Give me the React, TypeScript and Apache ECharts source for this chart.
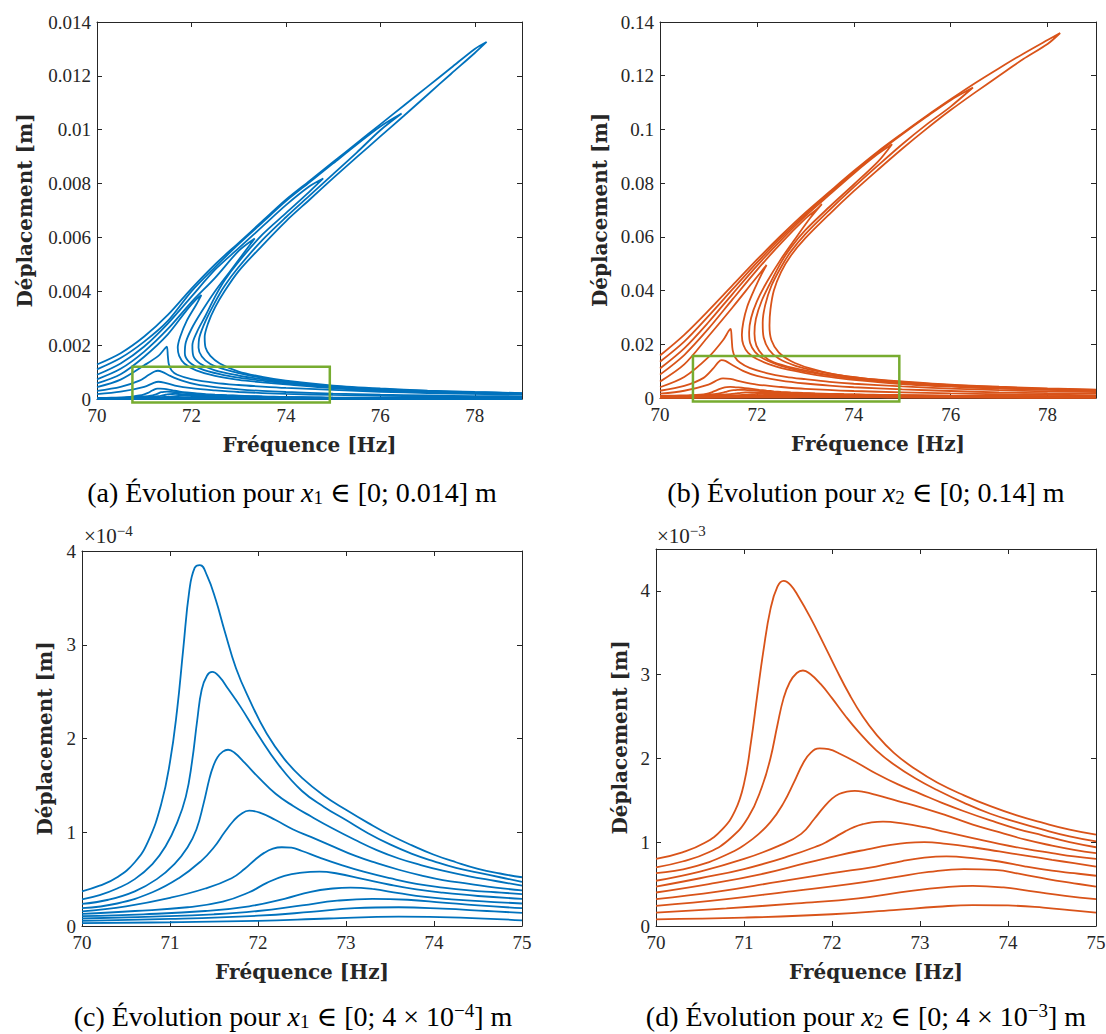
import React, { useEffect, useRef } from "react";
import * as echarts from "echarts";

const BLUE = "#0072BD";
const ORANGE = "#D95319";
const GREEN = "#77AC30";
const AXIS = "#262626";
const FONT_NUM = "Liberation Serif, DejaVu Serif, serif";
const FONT_BOLD = "DejaVu Serif, Liberation Serif, serif";

type Pt = [number, number];

// ---------- Panel (a): x1 [m], fold curves (upper branch -> tip -> return -> lower branch)
const aF6: Pt[] = [[70,0.00128],[70.5,0.0017],[71,0.00232],[71.5,0.00312],[72,0.0041],[72.5,0.005],[73,0.0058],[73.5,0.0066],[74,0.0074],[74.5,0.0081],[75,0.0088],[75.5,0.0095],[76,0.0102],[76.5,0.0109],[77,0.0116],[77.5,0.0123],[78,0.013],[78.25,0.01326],
  [78,0.01285],[77.5,0.01208],[77,0.0113],[76.5,0.01052],[76,0.00975],[75.5,0.00898],[75,0.0082],[74.5,0.0074],[74,0.0066],[73.5,0.0057],[73,0.00475],[72.7,0.004],[72.5,0.0034],[72.35,0.0028],[72.28,0.0023],[72.3,0.0019],[72.4,0.0016],[72.6,0.00132],[73,0.00102],[73.5,0.00082],[74,0.00068],[75,0.0005],[76,0.00039],[77,0.00031],[78,0.00026],[79,0.00022]];
const aF5: Pt[] = [[70,0.0011],[70.5,0.00152],[71,0.00213],[71.5,0.0029],[72,0.004],[72.5,0.0049],[73,0.00575],[73.5,0.00655],[74,0.00735],[74.5,0.00805],[75,0.00875],[75.5,0.00945],[76,0.01012],[76.45,0.0106],
  [76,0.00998],[75.5,0.00915],[75,0.00835],[74.5,0.00755],[74,0.00675],[73.5,0.0059],[73,0.0049],[72.7,0.0042],[72.5,0.0036],[72.3,0.0029],[72.17,0.0023],[72.15,0.0019],[72.22,0.00158],[72.4,0.0013],[72.7,0.0011],[73,0.00096],[73.5,0.00078],[74,0.00065],[75,0.00047],[76,0.00037],[77,0.0003],[78,0.00025],[79,0.00021]];
const aF4: Pt[] = [[70,0.0009],[70.5,0.00132],[71,0.00195],[71.5,0.0028],[72,0.0038],[72.5,0.0048],[73,0.0056],[73.5,0.0064],[74,0.0072],[74.5,0.0079],[74.79,0.00819],
  [74.5,0.0077],[74,0.0069],[73.5,0.0061],[73,0.0051],[72.7,0.0044],[72.5,0.0038],[72.3,0.0031],[72.12,0.0025],[72.02,0.002],[72.04,0.0016],[72.18,0.00132],[72.5,0.00106],[73,0.00087],[73.5,0.00073],[74,0.00062],[75,0.00045],[76,0.00035],[77,0.00028],[78,0.00023],[79,0.0002]];
const aF3: Pt[] = [[70,0.00073],[70.5,0.00112],[71,0.00176],[71.5,0.0026],[72,0.0036],[72.5,0.0045],[73,0.0055],[73.34,0.00596],
  [73.1,0.0054],[72.8,0.0047],[72.5,0.004],[72.2,0.0032],[72,0.0026],[71.88,0.0021],[71.86,0.0017],[71.95,0.00138],[72.2,0.00112],[72.6,0.00092],[73,0.00079],[73.5,0.00068],[74,0.00058],[75,0.00043],[76,0.00033],[77,0.00027],[78,0.00022],[79,0.00019]];
const aF2: Pt[] = [[70,0.00058],[70.5,0.00092],[71,0.00157],[71.5,0.0024],[71.9,0.0033],[72.1,0.0037],[72.21,0.00386],
  [72.1,0.0035],[71.9,0.0029],[71.76,0.0023],[71.71,0.0019],[71.74,0.0016],[71.85,0.00132],[72.1,0.00106],[72.5,0.00086],[73,0.00071],[73.5,0.00062],[74,0.00054],[75,0.0004],[76,0.00031],[77,0.00025],[78,0.00021],[79,0.00018]];
const aF1: Pt[] = [[70,0.00044],[70.5,0.00072],[71,0.00125],[71.3,0.0016],[71.44,0.00188],[71.48,0.00194],
  [71.5,0.0016],[71.52,0.0013],[71.58,0.00106],[71.7,0.0009],[72,0.00074],[72.5,0.0006],[73,0.00052],[73.5,0.00046],[74,0.00041],[75,0.00034],[76,0.00027],[77,0.00022],[78,0.00019],[79,0.00016]];
const aP1: Pt[] = [[70,0.0003],[70.5,0.00045],[70.9,0.00068],[71.1,0.0009],[71.22,0.00102],[71.29,0.00105],[71.38,0.00101],[71.55,0.00086],[71.8,0.00068],[72.1,0.00054],[72.5,0.00044],[73,0.00036],[73.5,0.0003],[74,0.00026],[75,0.0002],[76,0.00016],[77,0.00013],[78,0.00011],[79,0.0001]];
const aP2: Pt[] = [[70,0.00018],[70.5,0.00027],[71,0.00045],[71.2,0.0006],[71.3,0.00064],[71.42,0.00061],[71.65,0.0005],[72,0.0004],[72.5,0.00032],[73,0.00026],[74,0.00019],[75,0.00015],[76,0.00012],[77,0.0001],[78,0.00008],[79,0.00007]];
const aZoomBox: Pt[] = [[70.75,0.0012],[74.93,0.0012],[74.93,-0.00013],[70.75,-0.00013],[70.75,0.0012]];

// ---------- Panel (b): x2 [m]
const bF6: Pt[] = [[70,0.0158],[70.5,0.0235],[71,0.0325],[71.5,0.042],[72,0.0515],[72.5,0.0605],[73,0.069],[73.5,0.0768],[74,0.0845],[74.5,0.0918],[75,0.0985],[75.5,0.105],[76,0.1112],[76.5,0.1172],[77,0.1228],[77.5,0.1282],[78,0.1333],[78.26,0.1359],
  [78,0.1318],[77.5,0.1262],[77,0.12],[76.5,0.1137],[76,0.1072],[75.5,0.1002],[75,0.0928],[74.5,0.085],[74,0.077],[73.5,0.0685],[73,0.0595],[72.7,0.053],[72.5,0.047],[72.35,0.04],[72.28,0.033],[72.26,0.027],[72.3,0.0215],[72.45,0.017],[72.7,0.0138],[73.1,0.011],[73.6,0.0088],[74.2,0.0073],[75,0.0062],[76,0.005],[77,0.0042],[78,0.0036],[79,0.0031]];
const bF5: Pt[] = [[70,0.0135],[70.5,0.021],[71,0.0305],[71.5,0.0405],[72,0.0504],[72.5,0.0597],[73,0.0684],[73.5,0.0763],[74,0.0841],[74.5,0.0914],[75,0.0982],[75.5,0.1047],[76,0.1109],[76.46,0.1156],
  [76,0.1085],[75.5,0.1018],[75,0.0945],[74.5,0.0866],[74,0.0785],[73.5,0.07],[73,0.061],[72.7,0.0545],[72.5,0.0488],[72.3,0.0418],[72.17,0.0345],[72.12,0.028],[72.14,0.0225],[72.25,0.018],[72.45,0.0147],[72.8,0.012],[73.3,0.0098],[73.8,0.0082],[74.5,0.0067],[75,0.0059],[76,0.0048],[77,0.004],[78,0.0034],[79,0.003]];
const bF4: Pt[] = [[70,0.011],[70.5,0.0185],[71,0.0282],[71.5,0.0388],[72,0.0492],[72.5,0.0588],[73,0.0677],[73.5,0.0757],[74,0.0836],[74.5,0.0909],[74.79,0.0945],
  [74.5,0.088],[74,0.0795],[73.5,0.0712],[73,0.0625],[72.7,0.056],[72.5,0.0505],[72.3,0.0437],[72.1,0.0362],[71.98,0.0295],[71.95,0.024],[71.99,0.0195],[72.12,0.016],[72.35,0.0133],[72.8,0.011],[73.3,0.0092],[73.8,0.0077],[74.5,0.0064],[75,0.0056],[76,0.0046],[77,0.0038],[78,0.0033],[79,0.0029]];
const bF3: Pt[] = [[70,0.0087],[70.5,0.016],[71,0.0258],[71.5,0.0368],[72,0.0476],[72.5,0.0577],[73,0.0668],[73.25,0.0705],[73.34,0.0722],
  [73.1,0.067],[72.8,0.0595],[72.5,0.0518],[72.2,0.043],[72,0.036],[71.88,0.0298],[71.84,0.0245],[71.86,0.0205],[71.96,0.0172],[72.15,0.0145],[72.5,0.012],[73,0.0098],[73.5,0.0084],[74,0.0072],[75,0.0054],[76,0.0044],[77,0.0037],[78,0.0032],[79,0.0028]];
const bF2: Pt[] = [[70,0.0061],[70.5,0.0125],[71,0.023],[71.5,0.0338],[71.9,0.0428],[72.1,0.0473],[72.2,0.0495],
  [72.1,0.0462],[71.95,0.0405],[71.8,0.034],[71.72,0.0283],[71.69,0.0235],[71.72,0.0198],[71.82,0.0168],[72,0.0145],[72.4,0.0117],[73,0.0093],[73.5,0.0079],[74,0.0068],[75,0.0052],[76,0.0042],[77,0.0035],[78,0.003],[79,0.0026]];
const bF1: Pt[] = [[70,0.004],[70.5,0.0078],[71,0.0152],[71.3,0.0215],[71.42,0.025],[71.46,0.0257],
  [71.48,0.022],[71.5,0.0178],[71.55,0.0152],[71.65,0.0132],[71.85,0.0112],[72.2,0.0093],[72.6,0.0079],[73,0.007],[73.5,0.006],[74,0.0053],[75,0.0043],[76,0.0035],[77,0.0029],[78,0.0025],[79,0.0022]];
const bP1: Pt[] = [[70,0.0027],[70.5,0.0045],[70.9,0.0075],[71.1,0.011],[71.2,0.0133],[71.27,0.0141],[71.35,0.0138],[71.5,0.0122],[71.75,0.0098],[72,0.0082],[72.5,0.0065],[73,0.0054],[73.5,0.0046],[74,0.004],[75,0.0032],[76,0.0026],[77,0.0021],[78,0.0018],[79,0.0016]];
const bP2: Pt[] = [[70,0.0016],[70.5,0.0027],[71,0.005],[71.2,0.0068],[71.3,0.0073],[71.45,0.0071],[71.7,0.006],[72,0.005],[72.5,0.0041],[73,0.0034],[74,0.0026],[75,0.0021],[76,0.0017],[77,0.0014],[78,0.0012],[79,0.001]];
const bZoomBox: Pt[] = [[70.68,0.0156],[74.94,0.0156],[74.94,-0.0013],[70.68,-0.0013],[70.68,0.0156]];

// ---------- Panel (c): x1, values in 1e-4 m
const c1: Pt[] = [[70,0.37],[70.2,0.43],[70.4,0.52],[70.6,0.68],[70.75,0.9],[70.9,1.3],[71,1.75],[71.08,2.3],[71.15,2.95],[71.22,3.58],[71.28,3.82],[71.34,3.85],[71.42,3.74],[71.52,3.48],[71.62,3.15],[71.75,2.75],[71.9,2.42],[72.1,2.05],[72.3,1.78],[72.5,1.58],[72.75,1.39],[73,1.24],[73.25,1.1],[73.5,0.97],[73.75,0.86],[74,0.76],[74.25,0.68],[74.5,0.61],[74.75,0.56],[75,0.52]];
const c2: Pt[] = [[70,0.285],[70.2,0.33],[70.4,0.4],[70.6,0.5],[70.8,0.66],[70.95,0.85],[71.08,1.1],[71.18,1.38],[71.25,1.75],[71.31,2.2],[71.36,2.52],[71.42,2.67],[71.48,2.71],[71.56,2.66],[71.66,2.53],[71.8,2.34],[72,2.04],[72.25,1.7],[72.5,1.44],[72.75,1.27],[73,1.13],[73.25,0.99],[73.5,0.87],[73.75,0.77],[74,0.69],[74.25,0.62],[74.5,0.57],[74.75,0.52],[75,0.47]];
const c3: Pt[] = [[70,0.235],[70.3,0.28],[70.6,0.37],[70.85,0.5],[71.05,0.66],[71.2,0.84],[71.3,1.03],[71.38,1.3],[71.45,1.58],[71.49,1.7],[71.54,1.8],[71.6,1.86],[71.66,1.88],[71.73,1.85],[71.85,1.74],[72,1.59],[72.2,1.41],[72.4,1.28],[72.6,1.17],[72.85,1.04],[73.1,0.92],[73.35,0.81],[73.6,0.72],[73.85,0.65],[74.1,0.59],[74.4,0.53],[74.7,0.48],[75,0.43]];
const c4: Pt[] = [[70,0.19],[70.4,0.24],[70.8,0.36],[71.1,0.51],[71.35,0.69],[71.5,0.84],[71.62,1],[71.72,1.12],[71.8,1.19],[71.9,1.23],[72.02,1.21],[72.2,1.13],[72.4,1.03],[72.6,0.95],[72.85,0.85],[73.1,0.75],[73.35,0.67],[73.6,0.6],[73.85,0.54],[74.1,0.49],[74.4,0.45],[74.7,0.41],[75,0.38]];
const c5: Pt[] = [[70,0.155],[70.5,0.21],[71,0.3],[71.4,0.4],[71.7,0.51],[71.85,0.61],[71.97,0.71],[72.07,0.78],[72.17,0.825],[72.27,0.84],[72.38,0.835],[72.5,0.8],[72.7,0.73],[72.95,0.65],[73.2,0.58],[73.5,0.51],[73.8,0.45],[74.1,0.41],[74.4,0.38],[74.7,0.36],[75,0.34]];
const c6: Pt[] = [[70,0.13],[70.6,0.16],[71.2,0.2],[71.6,0.26],[71.9,0.36],[72.1,0.46],[72.3,0.535],[72.5,0.57],[72.7,0.58],[72.9,0.56],[73.2,0.5],[73.5,0.44],[73.8,0.39],[74.1,0.355],[74.5,0.32],[75,0.29]];
const c7: Pt[] = [[70,0.105],[70.7,0.125],[71.4,0.16],[71.9,0.21],[72.3,0.29],[72.6,0.365],[72.85,0.4],[73.05,0.41],[73.3,0.395],[73.6,0.35],[73.9,0.31],[74.2,0.285],[74.6,0.26],[75,0.24]];
const c8: Pt[] = [[70,0.08],[70.8,0.1],[71.5,0.125],[72,0.16],[72.5,0.22],[72.9,0.27],[73.3,0.29],[73.7,0.28],[74.1,0.25],[74.5,0.22],[75,0.19]];
const c9: Pt[] = [[70,0.055],[71,0.075],[72,0.11],[72.6,0.15],[73.1,0.19],[73.6,0.2],[74.1,0.185],[74.6,0.16],[75,0.14]];
const c10: Pt[] = [[70,0.03],[71,0.04],[72,0.055],[72.8,0.08],[73.6,0.1],[74.3,0.09],[75,0.06]];
// continuation of the same curves beyond 75 Hz (seen in panel a), 1e-4 m
const cTail1: Pt[] = [[76,0.42],[77,0.35],[78,0.29],[79,0.25]];
const cTail2: Pt[] = [[76,0.38],[77,0.31],[78,0.26],[79,0.22]];
const cTail3: Pt[] = [[76,0.34],[77,0.28],[78,0.24],[79,0.2]];
const cTail4: Pt[] = [[76,0.3],[77,0.25],[78,0.21],[79,0.18]];
const cTail5: Pt[] = [[76,0.27],[77,0.22],[78,0.19],[79,0.16]];
const cTail6: Pt[] = [[76,0.23],[77,0.19],[78,0.16],[79,0.14]];
const cTail7: Pt[] = [[76,0.19],[77,0.16],[78,0.13],[79,0.11]];
const cTail8: Pt[] = [[76,0.15],[77,0.12],[78,0.1],[79,0.09]];
const cTail9: Pt[] = [[76,0.1],[77,0.08],[78,0.07],[79,0.06]];
const cTail10: Pt[] = [[76,0.05],[77,0.04],[78,0.03],[79,0.03]];

// ---------- Panel (d): x2, values in 1e-3 m
const d1: Pt[] = [[70,0.8],[70.3,0.88],[70.55,0.99],[70.75,1.15],[70.9,1.38],[71,1.7],[71.08,2.2],[71.15,2.75],[71.22,3.28],[71.3,3.78],[71.38,4.05],[71.45,4.12],[71.53,4.07],[71.62,3.93],[71.75,3.69],[71.9,3.38],[72.05,3.06],[72.2,2.76],[72.35,2.5],[72.5,2.29],[72.7,2.07],[72.95,1.87],[73.2,1.71],[73.5,1.56],[73.8,1.43],[74.1,1.32],[74.4,1.23],[74.7,1.15],[75,1.09]];
const d2: Pt[] = [[70,0.7],[70.3,0.77],[70.6,0.88],[70.85,1.05],[71.05,1.3],[71.2,1.65],[71.3,2],[71.38,2.4],[71.45,2.72],[71.52,2.91],[71.6,3.02],[71.67,3.05],[71.75,3.01],[71.87,2.89],[72,2.72],[72.15,2.51],[72.3,2.32],[72.5,2.1],[72.7,1.93],[72.95,1.76],[73.2,1.62],[73.5,1.47],[73.8,1.34],[74.1,1.24],[74.4,1.15],[74.7,1.07],[75,1.01]];
const d3: Pt[] = [[70,0.63],[70.4,0.7],[70.8,0.85],[71.1,1.04],[71.3,1.24],[71.45,1.47],[71.57,1.72],[71.67,1.94],[71.76,2.07],[71.86,2.12],[71.96,2.11],[72.1,2.05],[72.3,1.94],[72.5,1.82],[72.75,1.69],[73,1.58],[73.25,1.47],[73.5,1.37],[73.8,1.26],[74.1,1.16],[74.4,1.08],[74.7,1],[75,0.94]];
const d4: Pt[] = [[70,0.54],[70.5,0.65],[71,0.8],[71.4,0.96],[71.65,1.1],[71.8,1.28],[71.9,1.41],[72,1.52],[72.08,1.575],[72.17,1.603],[72.26,1.612],[72.36,1.6],[72.5,1.565],[72.75,1.49],[73,1.42],[73.3,1.32],[73.6,1.21],[73.9,1.12],[74.2,1.03],[74.5,0.96],[74.75,0.91],[75,0.87]];
const d5: Pt[] = [[70,0.47],[70.5,0.57],[71,0.68],[71.5,0.83],[71.85,0.96],[71.95,1.01],[72.05,1.07],[72.15,1.13],[72.25,1.18],[72.35,1.215],[72.45,1.237],[72.58,1.245],[72.8,1.225],[73.05,1.18],[73.3,1.12],[73.6,1.05],[73.9,0.98],[74.2,0.92],[74.5,0.87],[74.75,0.83],[75,0.8]];
const d6: Pt[] = [[70,0.4],[70.6,0.5],[71.2,0.62],[71.7,0.75],[72.1,0.85],[72.4,0.915],[72.65,0.965],[72.85,0.993],[73.05,1],[73.3,0.98],[73.6,0.94],[73.9,0.89],[74.2,0.84],[74.5,0.79],[74.75,0.75],[75,0.71]];
const d7: Pt[] = [[70,0.32],[70.7,0.41],[71.4,0.53],[72,0.63],[72.5,0.71],[72.8,0.775],[73.05,0.815],[73.3,0.83],[73.6,0.81],[73.9,0.77],[74.2,0.71],[74.5,0.66],[74.75,0.63],[75,0.6]];
const d8: Pt[] = [[70,0.24],[70.8,0.32],[71.5,0.41],[72.2,0.5],[72.7,0.58],[73.1,0.645],[73.5,0.68],[73.85,0.67],[74.15,0.62],[74.45,0.56],[74.75,0.51],[75,0.47]];
const d9: Pt[] = [[70,0.16],[70.8,0.21],[71.6,0.27],[72.3,0.33],[72.9,0.42],[73.3,0.465],[73.6,0.48],[73.95,0.46],[74.3,0.41],[74.65,0.36],[75,0.32]];
const d10: Pt[] = [[70,0.08],[71,0.1],[72,0.14],[72.7,0.19],[73.2,0.23],[73.6,0.25],[74,0.245],[74.4,0.22],[74.7,0.19],[75,0.16]];
const dTail1: Pt[] = [[76,0.88],[77,0.72],[78,0.61],[79,0.53]];
const dTail2: Pt[] = [[76,0.81],[77,0.67],[78,0.56],[79,0.49]];
const dTail3: Pt[] = [[76,0.75],[77,0.62],[78,0.52],[79,0.45]];
const dTail4: Pt[] = [[76,0.7],[77,0.57],[78,0.48],[79,0.42]];
const dTail5: Pt[] = [[76,0.64],[77,0.53],[78,0.44],[79,0.38]];
const dTail6: Pt[] = [[76,0.57],[77,0.47],[78,0.39],[79,0.34]];
const dTail7: Pt[] = [[76,0.48],[77,0.39],[78,0.33],[79,0.29]];
const dTail8: Pt[] = [[76,0.38],[77,0.31],[78,0.26],[79,0.22]];
const dTail9: Pt[] = [[76,0.26],[77,0.21],[78,0.18],[79,0.15]];
const dTail10: Pt[] = [[76,0.13],[77,0.1],[78,0.09],[79,0.08]];

const cCurves = [c1, c2, c3, c4, c5, c6, c7, c8, c9, c10];
const cTails = [cTail1, cTail2, cTail3, cTail4, cTail5, cTail6, cTail7, cTail8, cTail9, cTail10];
const dCurves = [d1, d2, d3, d4, d5, d6, d7, d8, d9, d10];
const dTails = [dTail1, dTail2, dTail3, dTail4, dTail5, dTail6, dTail7, dTail8, dTail9, dTail10];

// axis tick settings per panel
const xTicksA = { min: 70, max: 79, interval: 2 };
const yTicksA = { min: 0, max: 0.014, interval: 0.002 };
const xTicksB = { min: 70, max: 79, interval: 2 };
const yTicksB = { min: 0, max: 0.14, interval: 0.02 };
const xTicksC = { min: 70, max: 75, interval: 1 };
const yTicksC = { min: 0, max: 4, interval: 1 };
const xTicksD = { min: 70, max: 75, interval: 1 };
const yTicksD = { min: 0, max: 4.5, interval: 1 };

const scaled = (pts: Pt[], k: number) => pts.map(([f, v]) => [f, v * k]);

function lineSeries(data: any[], color: string, gi: number, extra: any = {}) {
  return {
    type: "line",
    data,
    xAxisIndex: gi * 2,
    yAxisIndex: gi * 2,
    showSymbol: false,
    symbol: "none",
    smooth: 0.3,
    silent: true,
    lineStyle: { color, width: 1.8 },
    emphasis: { disabled: true },
    ...extra,
  };
}

function buildAxes(gi: number, xt: any, yt: any, yGap: number, xFmt: any, yFmt: any) {
  const common = {
    type: "value",
    gridIndex: gi,
    splitLine: { show: false },
    axisLine: { show: true, onZero: false, lineStyle: { color: AXIS, width: 1 } },
    axisTick: { show: true, inside: true, length: 5, lineStyle: { color: AXIS, width: 1 } },
  };
  const labelStyle = { color: AXIS, fontFamily: FONT_NUM, fontSize: 19, margin: 7, showMinLabel: true, showMaxLabel: true };
  const nameStyle = { color: AXIS, fontFamily: FONT_BOLD, fontWeight: "bold", fontSize: 20 };
  const xs = [
    {
      ...common, ...xt, position: "bottom",
      axisLabel: { ...labelStyle, formatter: xFmt },
      name: "Fréquence [Hz]", nameLocation: "middle", nameGap: 36, nameTextStyle: nameStyle,
    },
    { ...common, ...xt, position: "top", axisLabel: { show: false } },
  ];
  const ys = [
    {
      ...common, ...yt, position: "left",
      axisLabel: { ...labelStyle, margin: 6, formatter: yFmt },
      name: "Déplacement [m]", nameLocation: "middle", nameGap: yGap, nameTextStyle: nameStyle,
    },
    { ...common, ...yt, position: "right", axisLabel: { show: false } },
  ];
  return { xs, ys };
}

const evenFmt = (v: number) => (Math.abs(v / 2 - Math.round(v / 2)) < 1e-6 ? String(Math.round(v)) : "");
const intFmt = (v: number) => (Math.abs(v - Math.round(v)) < 1e-6 ? String(Math.round(v)) : "");

function buildOption() {
  const grids = [
    { left: 97, top: 22, width: 425, height: 377 },
    { left: 660, top: 22, width: 436, height: 376 },
    { left: 82, top: 551, width: 440, height: 375 },
    { left: 656, top: 549, width: 440, height: 377 },
  ].map((g) => ({ ...g, outerBoundsMode: "none", containLabel: false, show: false }));

  const A = buildAxes(0, xTicksA, yTicksA, 62, evenFmt, undefined);
  const B = buildAxes(1, xTicksB, yTicksB, 50, evenFmt, undefined);
  const C = buildAxes(2, xTicksC, yTicksC, 27, intFmt, intFmt);
  const D = buildAxes(3, xTicksD, yTicksD, 26, intFmt, intFmt);

  const boxStyle = { smooth: false, clip: false, z: 5, lineStyle: { color: GREEN, width: 2.5, join: "miter", cap: "square" } };
  const series: any[] = [];
  // panel a
  [aF6, aF5, aF4, aF3, aF2, aF1, aP1, aP2].forEach((c) => series.push(lineSeries(c, BLUE, 0)));
  cCurves.forEach((c, i) => series.push(lineSeries(scaled(c.concat(cTails[i]), 1e-4), BLUE, 0)));
  series.push(lineSeries(aZoomBox, GREEN, 0, boxStyle));
  // panel b
  [bF6, bF5, bF4, bF3, bF2, bF1, bP1, bP2].forEach((c) => series.push(lineSeries(c, ORANGE, 1)));
  dCurves.forEach((c, i) => series.push(lineSeries(scaled(c.concat(dTails[i]), 1e-3), ORANGE, 1)));
  series.push(lineSeries(bZoomBox, GREEN, 1, boxStyle));
  // panel c & d
  cCurves.forEach((c) => series.push(lineSeries(c, BLUE, 2, { smooth: 0.45 })));
  dCurves.forEach((c) => series.push(lineSeries(c, ORANGE, 3, { smooth: 0.45 })));

  const capRich = {
    t: { fontFamily: FONT_NUM, fontSize: 28, lineHeight: 30, fill: "#000" },
    i: { fontFamily: FONT_NUM, fontSize: 28, fontStyle: "italic", lineHeight: 30, fill: "#000" },
    sub: { fontFamily: FONT_NUM, fontSize: 19, lineHeight: 18, verticalAlign: "bottom", fill: "#000" },
    sup: { fontFamily: FONT_NUM, fontSize: 19, lineHeight: 18, verticalAlign: "top", fill: "#000" },
  };
  const expRich = {
    m: { fontFamily: FONT_NUM, fontSize: 21, lineHeight: 26, fill: AXIS },
    s: { fontFamily: FONT_NUM, fontSize: 15, lineHeight: 15, verticalAlign: "top", fill: AXIS },
  };
  const caption = (x: number, y: number, text: string) => ({
    type: "text", x, y, silent: true,
    style: { text, rich: capRich, align: "center", verticalAlign: "middle", textAlign: "center", textVerticalAlign: "middle", fill: "#000", fontFamily: FONT_NUM, fontSize: 28 },
  });
  const expLabel = (x: number, y: number, text: string) => ({
    type: "text", x, y, silent: true,
    style: { text, rich: expRich, align: "left", verticalAlign: "middle", textAlign: "left", textVerticalAlign: "middle", fill: AXIS, fontFamily: FONT_NUM, fontSize: 21 },
  });

  const graphic = [
    caption(292, 492, "{t|(a) Évolution pour }{i|x}{sub|1}{t| ∈ [0; 0.014] m}"),
    caption(866, 492, "{t|(b) Évolution pour }{i|x}{sub|2}{t| ∈ [0; 0.14] m}"),
    caption(293, 1016, "{t|(c) Évolution pour }{i|x}{sub|1}{t| ∈ [0; 4 × 10}{sup|−4}{t|] m}"),
    caption(866, 1016, "{t|(d) Évolution pour }{i|x}{sub|2}{t| ∈ [0; 4 × 10}{sup|−3}{t|] m}"),
    expLabel(84, 536, "{m|×10}{s|−4}"),
    expLabel(657, 536, "{m|×10}{s|−3}"),
  ];

  return {
    animation: false,
    backgroundColor: "#fff",
    textStyle: { fontFamily: FONT_NUM },
    grid: grids,
    xAxis: [...A.xs, ...B.xs, ...C.xs, ...D.xs],
    yAxis: [...A.ys, ...B.ys, ...C.ys, ...D.ys],
    series,
    graphic,
  };
}

export default function App() {
  const ref = useRef<HTMLDivElement>(null);
  useEffect(() => {
    const chart = echarts.init(ref.current as HTMLDivElement, null, { renderer: "svg" });
    chart.setOption(buildOption() as any);
    return () => chart.dispose();
  }, []);
  return (
    <div
      ref={ref}
      style={{ position: "absolute", left: 0, top: 0, width: 1106, height: 1034, background: "#fff" }}
    />
  );
}
